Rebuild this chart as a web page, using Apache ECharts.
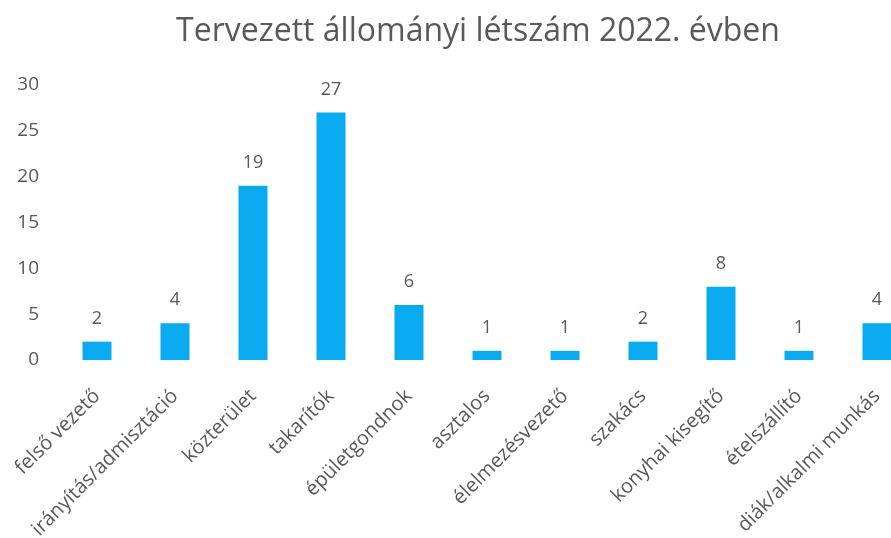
<!DOCTYPE html>
<html>
<head>
<meta charset="utf-8">
<script src="https://cdn.jsdelivr.net/npm/echarts@6/dist/echarts.min.js"></script>
<style>
  html, body { margin: 0; padding: 0; background: #fff; }
  #mainContent { width: 891px; height: 538px; }
</style>
</head>
<body>
<div id="mainContent"></div>
<script>
// adatok
var categories = ['felső vezető', 'irányítás/admisztáció', 'közterület', 'takarítók', 'épületgondnok',
    'asztalos', 'élelmezésvezető', 'szakács', 'konyhai kisegítő', 'ételszállító', 'diák/alkalmi munkás'];
var values = [2, 4, 19, 27, 6, 1, 1, 2, 8, 1, 4];
var yTicks = [0, 5, 10, 15, 20, 25, 30];

var myChart = echarts.init(document.getElementById('mainContent'));

var font = 'Open Sans, Noto Sans, sans-serif';

option = {
    animation: false,
    title: {
        text: 'Tervezett állományi létszám 2022. évben',
        left: 473,
        textAlign: 'center',
        top: 11,
        textStyle: {
            color: '#595959',
            fontSize: 32,
            fontWeight: 'normal',
            fontFamily: font
        }
    },
    grid: {
        left: 58,
        width: 858,
        top: 85,
        bottom: 178,
        outerBoundsMode: 'none'
    },
    xAxis: {
        type: 'category',
        data: categories,
        axisLine: { show: false },
        axisTick: { show: false },
        axisLabel: {
            rotate: 45,
            interval: 0,
            margin: 33,
            color: '#595959',
            fontSize: 20,
            fontFamily: font
        }
    },
    yAxis: {
        type: 'value',
        min: yTicks[0],
        max: yTicks[yTicks.length - 1],
        interval: 5,
        splitLine: { show: false },
        axisLine: { show: false },
        axisTick: { show: false },
        axisLabel: {
            margin: 19,
            color: '#595959',
            fontSize: 19,
            fontFamily: font
        }
    },
    series: [{
        type: 'bar',
        data: values,
        barWidth: 29,
        itemStyle: { color: '#0AAAF0' },
        label: {
            show: true,
            position: 'top',
            distance: 14,
            color: '#595959',
            fontSize: 18,
            fontFamily: font
        }
    }]
};

myChart.setOption(option);
</script>
</body>
</html>
